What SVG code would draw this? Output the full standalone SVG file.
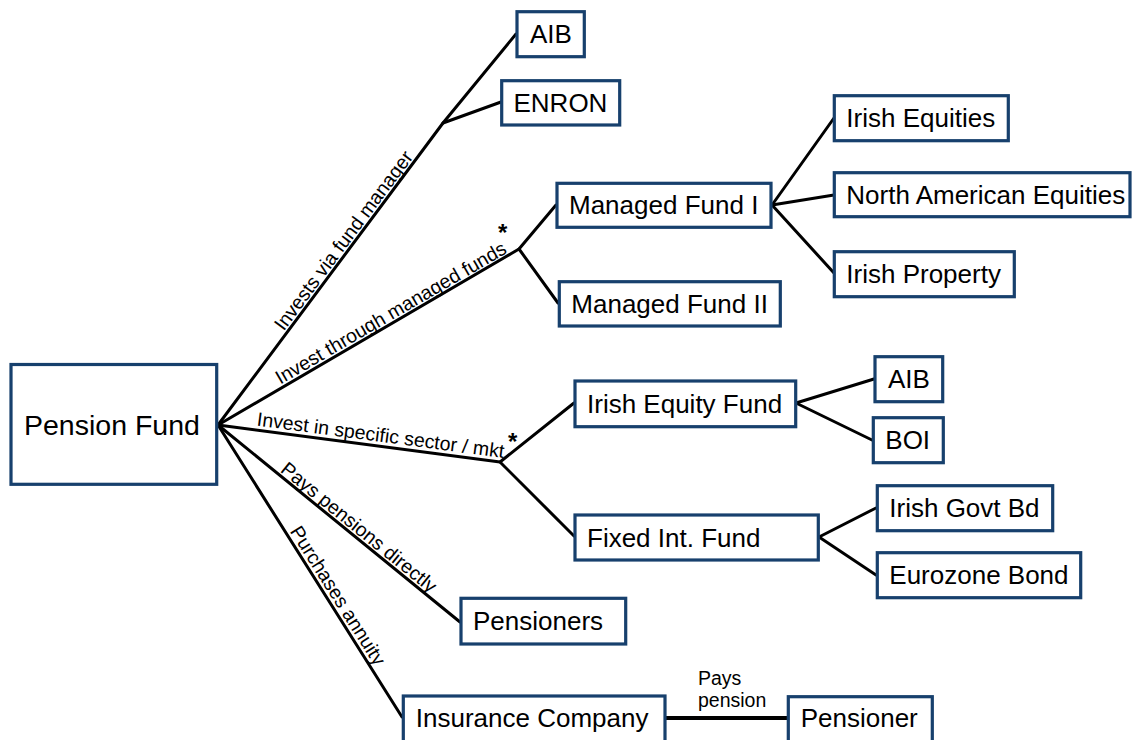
<svg xmlns="http://www.w3.org/2000/svg" width="1133" height="740" viewBox="0 0 1133 740">
<style>
.box{fill:#fff;stroke:#17406D;stroke-width:3.2}
.t{font-family:"Liberation Sans",Arial,sans-serif;font-size:26px;fill:#000}
.big{font-size:28.5px}
.lbl{font-family:"Liberation Sans",Arial,sans-serif;font-size:19.5px;fill:#000}
.star{font-family:"Liberation Sans",Arial,sans-serif;font-size:24px;font-weight:bold;fill:#000}
.c{fill:none;stroke:#000;stroke-width:3;stroke-linecap:round;stroke-linejoin:round}
</style>
<rect width="1133" height="740" fill="#fff"/>
<g id="connectors">
<polyline class="c" points="218,425 443,123 516,34"/>
<line class="c" x1="443" y1="123" x2="501" y2="102"/>
<polyline class="c" points="218,425 519,249 556,205"/>
<line class="c" x1="519" y1="249" x2="558" y2="303"/>
<line class="c" x1="772" y1="205" x2="834" y2="118"/>
<line class="c" x1="772" y1="205" x2="834" y2="195"/>
<line class="c" x1="772" y1="205" x2="834" y2="273"/>
<polyline class="c" points="218,425 500,462 574,403"/>
<line class="c" x1="500" y1="462" x2="574" y2="536"/>
<line class="c" x1="796" y1="403" x2="874" y2="379"/>
<line class="c" x1="796" y1="403" x2="872" y2="440"/>
<line class="c" x1="819" y1="537" x2="876" y2="508"/>
<line class="c" x1="819" y1="537" x2="876" y2="575"/>
<line class="c" x1="218" y1="425" x2="460" y2="622"/>
<line class="c" x1="218" y1="425" x2="402" y2="717"/>
<line class="c" x1="665" y1="718" x2="788" y2="718" style="stroke-width:4;stroke-linecap:butt"/>
</g>
<g id="edge-labels">
<text class="lbl" transform="translate(283.7,331.8) rotate(-53.3)">Invests via fund manager</text>
<text class="lbl" transform="translate(280.2,384.8) rotate(-30.17)">Invest through managed funds</text>
<text class="lbl" transform="translate(256.3,425.5) rotate(7.47)">Invest in specific sector / mkt</text>
<text class="lbl" transform="translate(279.6,471.3) rotate(39.1)">Pays pensions directly</text>
<text class="lbl" transform="translate(289.6,531.2) rotate(57.8)">Purchases annuity</text>
<text class="star" x="498" y="241">*</text>
<text class="star" x="508" y="450">*</text>
<text class="lbl" x="698" y="685">Pays</text>
<text class="lbl" x="698" y="707">pension</text>
</g>
<g id="pension-fund"><rect class="box" x="11" y="364.5" width="205.7" height="119.8"/><text class="t big" x="24" y="435">Pension Fund</text></g>
<g id="aib-1"><rect class="box" x="517" y="11.7" width="67.3" height="45"/><text class="t" x="530" y="43.2">AIB</text></g>
<g id="enron"><rect class="box" x="501.7" y="80.7" width="118" height="44.3"/><text class="t" x="513.5" y="111.8">ENRON</text></g>
<g id="managed-fund-1"><rect class="box" x="557" y="183.3" width="214" height="44"/><text class="t" x="569" y="214.3">Managed Fund I</text></g>
<g id="managed-fund-2"><rect class="box" x="559.3" y="281.7" width="221" height="44.3"/><text class="t" x="571.3" y="312.8">Managed Fund II</text></g>
<g id="irish-equities"><rect class="box" x="834.3" y="95.7" width="174" height="45"/><text class="t" x="846.3" y="127.2">Irish Equities</text></g>
<g id="north-american-equities"><rect class="box" x="834.3" y="172.7" width="295.7" height="44"/><text class="t" x="846.3" y="203.7">North American Equities</text></g>
<g id="irish-property"><rect class="box" x="834.3" y="251.7" width="180" height="45"/><text class="t" x="846.3" y="283.2">Irish Property</text></g>
<g id="irish-equity-fund"><rect class="box" x="575" y="381" width="220.7" height="45.7"/><text class="t" x="587" y="412.8">Irish Equity Fund</text></g>
<g id="fixed-int-fund"><rect class="box" x="575" y="515" width="243.3" height="45"/><text class="t" x="587" y="546.5">Fixed Int. Fund</text></g>
<g id="aib-2"><rect class="box" x="875" y="356.7" width="67.7" height="45"/><text class="t" x="888" y="388.2">AIB</text></g>
<g id="boi"><rect class="box" x="873.3" y="417.7" width="70" height="45"/><text class="t" x="885.3" y="449.2">BOI</text></g>
<g id="irish-govt-bd"><rect class="box" x="877.3" y="485.7" width="175.4" height="45"/><text class="t" x="889.3" y="517.2">Irish Govt Bd</text></g>
<g id="eurozone-bond"><rect class="box" x="877.3" y="552.7" width="203.4" height="45"/><text class="t" x="889.3" y="584.2">Eurozone Bond</text></g>
<g id="pensioners"><rect class="box" x="461" y="598.3" width="164.7" height="45.7"/><text class="t" x="473" y="630.2">Pensioners</text></g>
<g id="insurance-company"><rect class="box" x="403.3" y="696" width="261.7" height="46"/><text class="t" x="415.8" y="727.3">Insurance Company</text></g>
<g id="pensioner"><rect class="box" x="788.3" y="696.7" width="144" height="46"/><text class="t" x="800.7" y="727.3">Pensioner</text></g>
</svg>
